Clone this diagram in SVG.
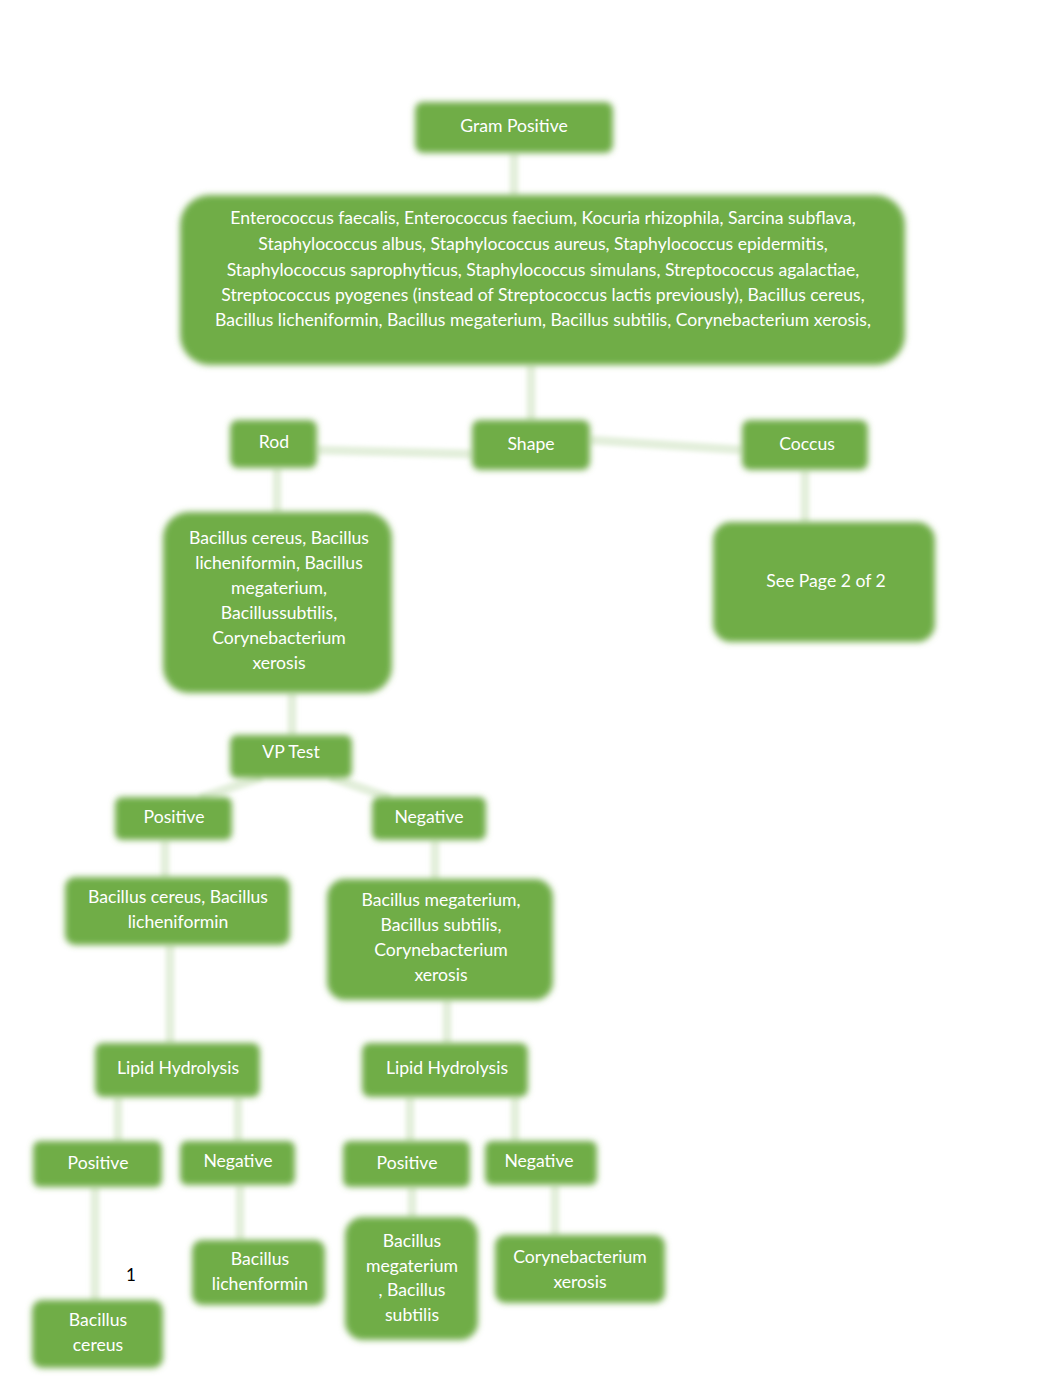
<svg xmlns="http://www.w3.org/2000/svg" width="1062" height="1377" viewBox="0 0 1062 1377">
<style>
.n{fill:#70ad47;filter:url(#soft)}
.t{fill:#ffffff;font-family:Lato,"Open Sans","Liberation Sans",sans-serif;font-size:17.6px;text-anchor:middle}
.c{stroke:#e3efdb;stroke-width:9;fill:none;filter:url(#soft2)}
</style>
<defs>
<filter id="soft" x="-20%" y="-20%" width="140%" height="140%"><feGaussianBlur stdDeviation="3"/></filter>
<filter id="soft2" filterUnits="userSpaceOnUse" x="0" y="0" width="1062" height="1377"><feGaussianBlur stdDeviation="2"/></filter>
</defs>
<rect width="1062" height="1377" fill="#ffffff"/>
<g id="connectors">
<line class="c" x1="514" y1="153" x2="514" y2="196"/>
<line class="c" x1="531" y1="365" x2="531" y2="421"/>
<line class="c" x1="472" y1="454" x2="317" y2="450"/>
<line class="c" x1="590" y1="440" x2="742" y2="450"/>
<line class="c" x1="277" y1="468" x2="277" y2="513"/>
<line class="c" x1="805" y1="470" x2="805" y2="523"/>
<line class="c" x1="292" y1="693" x2="292" y2="736"/>
<line class="c" x1="262" y1="777" x2="200" y2="798"/>
<line class="c" x1="330" y1="777" x2="390" y2="798"/>
<line class="c" x1="165" y1="840" x2="165" y2="878"/>
<line class="c" x1="435" y1="840" x2="435" y2="880"/>
<line class="c" x1="170" y1="945" x2="170" y2="1044"/>
<line class="c" x1="447" y1="1000" x2="447" y2="1044"/>
<line class="c" x1="118" y1="1097" x2="118" y2="1142"/>
<line class="c" x1="238" y1="1097" x2="238" y2="1142"/>
<line class="c" x1="410" y1="1097" x2="410" y2="1142"/>
<line class="c" x1="515" y1="1097" x2="515" y2="1142"/>
<line class="c" x1="95" y1="1187" x2="95" y2="1301"/>
<line class="c" x1="240" y1="1185" x2="240" y2="1241"/>
<line class="c" x1="412" y1="1187" x2="412" y2="1218"/>
<line class="c" x1="555" y1="1185" x2="555" y2="1236"/>
</g>
<g id="gram-positive"><rect class="n" x="415" y="102" width="198" height="51" rx="8"/><text class="t" x="514" y="132">Gram Positive</text></g>
<g id="all-species"><rect class="n" x="180" y="195" width="725" height="170" rx="30"/>
<text class="t" x="543" y="224">Enterococcus faecalis, Enterococcus faecium, Kocuria rhizophila, Sarcina subflava,</text>
<text class="t" x="543" y="250">Staphylococcus albus, Staphylococcus aureus, Staphylococcus epidermitis,</text>
<text class="t" x="543" y="276">Staphylococcus saprophyticus, Staphylococcus simulans, Streptococcus agalactiae,</text>
<text class="t" x="543" y="301">Streptococcus pyogenes (instead of Streptococcus lactis previously), Bacillus cereus,</text>
<text class="t" x="543" y="326">Bacillus licheniformin, Bacillus megaterium, Bacillus subtilis, Corynebacterium xerosis,</text></g>
<g id="rod"><rect class="n" x="230" y="420" width="87" height="48" rx="8"/><text class="t" x="274" y="448">Rod</text></g>
<g id="shape"><rect class="n" x="472" y="420" width="118" height="50" rx="8"/><text class="t" x="531" y="450">Shape</text></g>
<g id="coccus"><rect class="n" x="742" y="420" width="126" height="50" rx="8"/><text class="t" x="807" y="450">Coccus</text></g>
<g id="rod-species"><rect class="n" x="163" y="512" width="229" height="181" rx="26"/>
<text class="t" x="279" y="544">Bacillus cereus, Bacillus</text>
<text class="t" x="279" y="569">licheniformin, Bacillus</text>
<text class="t" x="279" y="594">megaterium,</text>
<text class="t" x="279" y="619">Bacillussubtilis,</text>
<text class="t" x="279" y="644">Corynebacterium</text>
<text class="t" x="279" y="669">xerosis</text></g>
<g id="see-page"><rect class="n" x="713" y="522" width="222" height="120" rx="18"/><text class="t" x="826" y="587">See Page 2 of 2</text></g>
<g id="vp-test"><rect class="n" x="230" y="735" width="122" height="43" rx="7"/><text class="t" x="291" y="758">VP Test</text></g>
<g id="vp-positive"><rect class="n" x="115" y="797" width="117" height="43" rx="7"/><text class="t" x="174" y="823">Positive</text></g>
<g id="vp-negative"><rect class="n" x="372" y="797" width="114" height="43" rx="7"/><text class="t" x="429" y="823">Negative</text></g>
<g id="vp-pos-species"><rect class="n" x="65" y="877" width="225" height="68" rx="10"/>
<text class="t" x="178" y="903">Bacillus cereus, Bacillus</text>
<text class="t" x="178" y="928">licheniformin</text></g>
<g id="vp-neg-species"><rect class="n" x="327" y="879" width="226" height="121" rx="18"/>
<text class="t" x="441" y="906">Bacillus megaterium,</text>
<text class="t" x="441" y="931">Bacillus subtilis,</text>
<text class="t" x="441" y="956">Corynebacterium</text>
<text class="t" x="441" y="981">xerosis</text></g>
<g id="lipid-1"><rect class="n" x="95" y="1043" width="165" height="54" rx="8"/><text class="t" x="178" y="1074">Lipid Hydrolysis</text></g>
<g id="lipid-2"><rect class="n" x="362" y="1043" width="166" height="54" rx="8"/><text class="t" x="447" y="1074">Lipid Hydrolysis</text></g>
<g id="lipid1-positive"><rect class="n" x="33" y="1141" width="129" height="46" rx="7"/><text class="t" x="98" y="1169">Positive</text></g>
<g id="lipid1-negative"><rect class="n" x="180" y="1141" width="115" height="44" rx="7"/><text class="t" x="238" y="1167">Negative</text></g>
<g id="lipid2-positive"><rect class="n" x="343" y="1141" width="127" height="46" rx="7"/><text class="t" x="407" y="1169">Positive</text></g>
<g id="lipid2-negative"><rect class="n" x="485" y="1141" width="112" height="44" rx="7"/><text class="t" x="539" y="1167">Negative</text></g>
<g id="b-cereus"><rect class="n" x="32" y="1300" width="131" height="68" rx="10"/>
<text class="t" x="98" y="1326">Bacillus</text>
<text class="t" x="98" y="1351">cereus</text></g>
<g id="b-lichenformin"><rect class="n" x="192" y="1240" width="133" height="65" rx="10"/>
<text class="t" x="260" y="1265">Bacillus</text>
<text class="t" x="260" y="1290">lichenformin</text></g>
<g id="b-meg-sub"><rect class="n" x="345" y="1217" width="133" height="123" rx="18"/>
<text class="t" x="412" y="1247">Bacillus</text>
<text class="t" x="412" y="1272">megaterium</text>
<text class="t" x="412" y="1296">, Bacillus</text>
<text class="t" x="412" y="1321">subtilis</text></g>
<g id="coryne"><rect class="n" x="495" y="1235" width="170" height="68" rx="10"/>
<text class="t" x="580" y="1263">Corynebacterium</text>
<text class="t" x="580" y="1288">xerosis</text></g>
<text x="131" y="1281" font-family="Lato,'Liberation Sans',sans-serif" font-size="17" text-anchor="middle" fill="#000000">1</text>
</svg>
